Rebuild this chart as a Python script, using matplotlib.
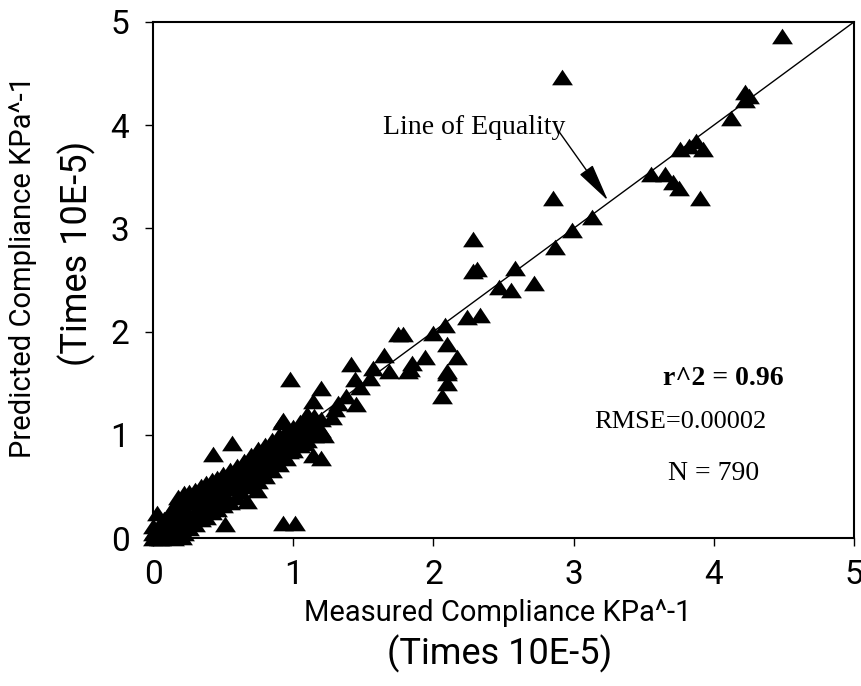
import numpy as np
import matplotlib
matplotlib.use("Agg")
import matplotlib.pyplot as plt

# measured vs predicted compliance (units of 1E-5 KPa^-1)
measured = [
    0.00, 0.00, 0.00, 0.03, 0.03, 0.03, 0.06, 0.06, 0.06, 0.10, 0.10, 0.10,
    0.14, 0.14, 0.14, 0.14, 0.19, 0.18, 0.18, 0.18, 0.22, 0.22, 0.22, 0.22,
    0.26, 0.26, 0.26, 0.26, 0.30, 0.30, 0.30, 0.30, 0.34, 0.34, 0.34, 0.34,
    0.38, 0.38, 0.38, 0.38, 0.42, 0.42, 0.42, 0.42, 0.46, 0.46, 0.46, 0.46,
    0.50, 0.50, 0.50, 0.50, 0.55, 0.55, 0.55, 0.55, 0.60, 0.60, 0.60, 0.60,
    0.67, 0.65, 0.65, 0.65, 0.70, 0.70, 0.70, 0.70, 0.74, 0.75, 0.75, 0.75,
    0.75, 0.80, 0.80, 0.80, 0.80, 0.85, 0.85, 0.85, 0.85, 0.90, 0.90, 0.90,
    0.90, 0.95, 0.95, 0.95, 0.95, 1.00, 1.00, 1.00, 1.00, 1.05, 1.05, 1.05,
    1.05, 1.10, 1.10, 1.10, 1.15, 1.15, 1.15, 1.20, 1.20,
    0.08, 0.12, 0.20, 0.24, 0.16, 0.28, 0.36, 0.44, 0.52, 0.58, 0.62, 0.72,
    0.78, 0.88, 0.97, 1.03, 1.08, 0.04, 0.09, 0.15, 0.21,
    0.43, 0.56, 0.51, 0.93, 1.01, 0.92, 1.22, 1.14, 1.20, 0.93, 1.10, 1.28,
    1.14, 1.32, 1.45, 1.30, 1.38, 0.98, 1.20, 1.48, 1.44, 1.55, 1.41, 1.57,
    1.68, 1.82, 2.10, 1.65, 1.85, 1.94, 2.17, 1.75, 1.78, 2.00, 2.08, 2.10,
    2.10, 2.06, 1.83, 2.10, 2.24, 2.33, 2.47, 2.55, 2.58, 2.72, 2.28, 2.31,
    2.28, 2.85, 2.87, 2.99, 3.13, 2.92, 3.55, 3.65, 3.71, 3.75, 3.90, 3.76,
    3.87, 3.92, 3.82, 4.12, 4.22, 4.22, 4.25, 4.49,
]
predicted = [
    0.00, 0.05, 0.12, 0.02, 0.10, 0.24, 0.00, 0.08, 0.15, 0.03, 0.12, 0.20,
    0.02, 0.10, 0.22, 0.30, 0.02, 0.15, 0.25, 0.40, 0.05, 0.18, 0.30, 0.44,
    0.10, 0.22, 0.35, 0.45, 0.14, 0.25, 0.38, 0.47, 0.18, 0.30, 0.42, 0.50,
    0.20, 0.33, 0.45, 0.53, 0.25, 0.38, 0.48, 0.56, 0.28, 0.40, 0.50, 0.58,
    0.32, 0.44, 0.55, 0.62, 0.35, 0.48, 0.58, 0.66, 0.40, 0.52, 0.62, 0.70,
    0.36, 0.55, 0.66, 0.75, 0.50, 0.62, 0.72, 0.80, 0.47, 0.55, 0.68, 0.78,
    0.86, 0.60, 0.72, 0.82, 0.90, 0.66, 0.78, 0.88, 0.95, 0.72, 0.82, 0.92,
    1.00, 0.78, 0.88, 0.96, 1.04, 0.85, 0.92, 1.00, 1.08, 0.90, 0.98, 1.05,
    1.12, 0.95, 1.02, 1.10, 1.00, 1.08, 1.18, 1.05, 1.15,
    0.18, 0.06, 0.34, 0.12, 0.32, 0.40, 0.46, 0.52, 0.40, 0.58, 0.46, 0.66,
    0.64, 0.74, 0.84, 0.96, 0.92, 0.00, 0.01, 0.00, 0.01,
    0.81, 0.92, 0.14, 0.15, 0.15, 1.12, 1.00, 0.80, 0.78, 1.14, 1.20, 1.17,
    1.33, 1.31, 1.30, 1.25, 1.38, 1.54, 1.45, 1.46, 1.54, 1.55, 1.69, 1.65,
    1.62, 1.62, 1.62, 1.77, 1.70, 1.75, 1.75, 1.98, 1.98, 1.99, 2.06, 1.88,
    1.50, 1.38, 1.64, 1.60, 2.14, 2.16, 2.43, 2.40, 2.62, 2.47, 2.59, 2.61,
    2.90, 3.29, 2.82, 2.98, 3.11, 4.47, 3.53, 3.53, 3.45, 3.39, 3.29, 3.77,
    3.85, 3.77, 3.80, 4.07, 4.24, 4.32, 4.28, 4.86,
]

ticks = [0, 1, 2, 3, 4, 5]
stats = ["r^2 = 0.96", "RMSE=0.00002", "N = 790"]

sans = "Roboto"
serif = "Liberation Serif"

fig = plt.figure(figsize=(8.62, 6.86), dpi=100)
ax = fig.add_axes([0.1775, 0.2157, 0.8132, 0.7523])

tri = [(0, 0.75), (-1, -0.75), (1, -0.75)]
ax.plot(measured, predicted, linestyle="none", marker=tri, markersize=15,
        color="black", markeredgewidth=0, clip_on=False)

# line of equality
ax.plot([0, 5], [0, 5], color="black", linewidth=1)

ax.set_xlim(0, 5)
ax.set_ylim(0, 5)
ax.set_xticks(ticks)
ax.set_yticks(ticks)
ax.tick_params(direction="out", length=6, width=1, labelsize=24)
ax.tick_params(axis="x", pad=9)
ax.tick_params(axis="y", pad=11)
for lab in ax.get_xticklabels() + ax.get_yticklabels():
    lab.set_family(sans)
for sp in ax.spines.values():
    sp.set_linewidth(1.5)

ax.text(1.64, 3.98, "Line of Equality", family=serif, fontsize=20,
        va="center", ha="left")
ax.annotate("", xy=(3.245, 3.27), xytext=(2.90, 3.93),
            arrowprops=dict(arrowstyle="-|>,head_length=2.4,head_width=0.5",
                            color="black", lw=1, shrinkA=0, shrinkB=0))

ax.text(3.64, 1.55, stats[0], family=serif, fontsize=20, fontweight="bold",
        va="center", ha="left")
ax.text(3.15, 1.12, stats[1], family=serif, fontsize=19, va="center", ha="left")
ax.text(3.67, 0.63, stats[2], family=serif, fontsize=20, va="center", ha="left")

fig.text(0.578, 0.1064, "Measured Compliance KPa^-1", family=sans,
         fontsize=21, ha="center", va="center")
fig.text(0.58, 0.0466, "(Times 10E-5)", family=sans,
         fontsize=26, ha="center", va="center")
fig.text(0.0267, 0.611, "Predicted Compliance KPa^-1", family=sans,
         fontsize=21, rotation=90, ha="center", va="center")
fig.text(0.0893, 0.631, "(Times 10E-5)", family=sans,
         fontsize=26, rotation=90, ha="center", va="center")

fig.savefig("out.png", dpi=100)
